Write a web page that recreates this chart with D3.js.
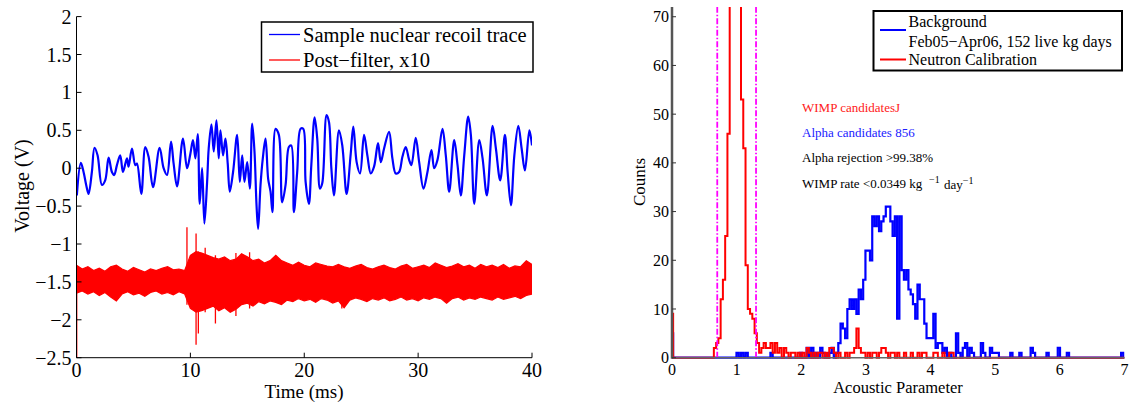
<!DOCTYPE html>
<html><head><meta charset="utf-8">
<script src="https://cdn.jsdelivr.net/npm/d3@7"></script>
<style>
body{margin:0;background:#fff}
svg{display:block}
text{font-family:"Liberation Serif","Times New Roman",serif;fill:#000}
</style>
</head><body>
<svg id="chart" width="1130" height="402"></svg>
<script>
// ---------- LEFT PANEL DATA ----------
const blueTime = [0.03,0.38,0.62,0.85,1.06,1.35,1.58,1.85,2.23,2.52,2.82,3.11,3.31,3.55,3.84,4.08,4.43,4.57,4.87,5.16,5.31,5.69,6.04,6.33,6.72,7.30,7.65,7.95,8.30,8.53,8.83,9.35,9.71,10.00,10.23,10.44,10.65,10.82,11.03,11.23,11.47,11.61,11.85,12.05,12.29,12.49,12.64,12.87,13.08,13.28,13.46,13.75,14.11,14.34,14.55,14.75,14.99,15.22,15.43,15.63,15.81,15.95,16.16,16.36,16.60,16.83,17.04,17.21,17.48,17.77,18.06,18.36,18.65,18.86,19.09,19.38,19.68,19.91,20.12,20.41,20.62,20.91,21.14,21.38,21.58,21.96,22.17,22.38,22.61,23.05,23.34,23.72,24.08,24.31,24.60,24.90,25.25,25.54,25.84,26.13,26.48,26.72,27.01,27.45,27.74,28.04,28.33,28.62,28.91,29.21,29.41,29.79,30.09,30.47,30.82,31.17,31.41,31.70,32.14,32.43,32.73,33.17,33.46,33.75,34.05,34.40,34.63,34.93,35.37,35.66,36.04,36.54,36.83,37.21,37.62,37.86,38.15,38.45,38.80,39.09,39.38,39.77,40.00];
const blueVolt = [-0.36,0.07,-0.05,-0.22,-0.34,-0.05,0.27,0.17,-0.22,-0.16,0.14,-0.05,-0.09,0.04,0.17,-0.05,0.13,0.02,0.26,0.04,0.06,-0.34,0.28,0.15,-0.25,0.27,0.00,-0.09,0.35,0.06,-0.24,0.39,0.00,0.19,0.37,0.13,0.45,-0.47,0.00,-0.73,-0.18,0.26,0.58,0.22,0.63,0.13,0.50,0.17,0.39,0.06,-0.31,-0.05,0.44,-0.18,0.17,-0.18,0.08,-0.27,0.59,0.22,-0.49,-0.80,-0.22,0.13,0.39,-0.14,-0.31,-0.58,0.52,0.44,-0.45,-0.22,0.28,0.30,-0.58,-0.05,0.52,0.52,-0.18,-0.47,0.04,0.67,0.39,-0.27,-0.20,0.70,0.61,0.00,-0.36,0.50,0.30,-0.34,0.19,0.55,0.08,-0.07,0.44,0.17,-0.07,0.02,0.33,0.08,0.26,0.48,0.13,-0.07,-0.05,0.15,0.28,0.11,0.04,0.40,0.08,-0.27,-0.05,0.24,0.00,0.11,0.52,0.17,-0.31,0.37,0.04,-0.36,0.17,0.68,0.44,-0.47,0.37,0.13,-0.36,0.56,0.26,-0.16,0.44,-0.05,-0.49,0.17,0.56,0.26,-0.03,0.50,0.30];

const redTime = [0,0.5,1,1.5,2,2.5,3,3.5,4,4.5,5,5.5,6,6.5,7,7.5,8,8.5,9,9.5,10,10.5,11,11.5,12,12.5,13,13.5,14,14.5,15,15.5,16,16.5,17,17.5,18,18.5,19,19.5,20,20.5,21,21.5,22,22.5,23,23.5,24,24.5,25,25.5,26,26.5,27,27.5,28,28.5,29,29.5,30,30.5,31,31.5,32,32.5,33,33.5,34,34.5,35,35.5,36,36.5,37,37.5,38,38.5,39,39.5,40];
const redHi = [-1.28,-1.33,-1.30,-1.35,-1.32,-1.36,-1.30,-1.28,-1.33,-1.36,-1.31,-1.34,-1.37,-1.33,-1.35,-1.32,-1.30,-1.34,-1.33,-1.35,-1.15,-1.10,-1.12,-1.15,-1.18,-1.20,-1.17,-1.22,-1.20,-1.13,-1.17,-1.22,-1.20,-1.25,-1.22,-1.15,-1.22,-1.25,-1.28,-1.24,-1.28,-1.30,-1.25,-1.27,-1.29,-1.30,-1.27,-1.30,-1.32,-1.29,-1.27,-1.31,-1.33,-1.30,-1.28,-1.31,-1.33,-1.29,-1.27,-1.32,-1.30,-1.28,-1.31,-1.25,-1.28,-1.31,-1.29,-1.26,-1.30,-1.28,-1.32,-1.27,-1.30,-1.28,-1.31,-1.27,-1.32,-1.29,-1.30,-1.22,-1.27];
const redLo = [-1.65,-1.62,-1.66,-1.63,-1.68,-1.64,-1.70,-1.75,-1.66,-1.63,-1.67,-1.65,-1.69,-1.64,-1.62,-1.66,-1.64,-1.67,-1.63,-1.66,-1.85,-1.90,-1.88,-1.85,-1.82,-1.88,-1.84,-1.90,-1.86,-1.80,-1.78,-1.82,-1.76,-1.79,-1.75,-1.77,-1.80,-1.74,-1.76,-1.72,-1.75,-1.73,-1.77,-1.72,-1.74,-1.78,-1.75,-1.84,-1.74,-1.71,-1.73,-1.76,-1.72,-1.74,-1.71,-1.75,-1.73,-1.70,-1.74,-1.72,-1.75,-1.71,-1.73,-1.70,-1.72,-1.78,-1.72,-1.70,-1.74,-1.71,-1.73,-1.70,-1.72,-1.74,-1.70,-1.73,-1.71,-1.69,-1.72,-1.68,-1.66];
// narrow spikes of the filtered trace
const spikeTime = [0.02,9.7,10.5,10.7,11.3,12.2,14.0,15.2,23.3];
const spikeHi   = [-1.30,-0.78,-0.86,-1.10,-1.05,-1.15,-1.12,-1.11,-1.30];
const spikeLo   = [-2.50,-1.80,-2.33,-2.18,-1.90,-2.05,-1.95,-1.85,-1.85];

const leftXTicks = [0,10,20,30,40];
const leftYTicks = [2,1.5,1,0.5,0,-0.5,-1,-1.5,-2,-2.5];
const leftLegend = ["Sample nuclear recoil trace","Post\u2212filter, x10"];

// ---------- RIGHT PANEL DATA ----------
const binWidth = 0.035;   // histogram bin width (bins centred on k*binWidth)
const redBinIdx = [0,19,20,21,22,23,24,25,26,27,28,29,30,31,32,33,34,35,36,37,38,39,40,41,42,43,44,45,46,47,48,50,51,53,54,56,58,60,61,63,65,66,68,70,71,72,74,77,79,80,81,82,83,84,85,87,89,90,92,93,94,95,97,98,100,103,106,109,111,112,116,117,120,123,124];
const redBinCnt = [9,2,3,4,12,16,25,46,85,120,130,110,80,53,43,19,10,9,8,5,3,1,2,3,2,2,3,1,3,1,2,2,1,1,1,1,1,2,1,1,1,1,1,2,2,1,1,1,1,1,2,6,2,1,1,1,1,1,1,2,2,1,1,1,1,1,1,1,1,1,1,1,1,1,1];
const blueBinIdx = [0,29,31,33,44,57,60,62,64,66,67,70,71,73,74,75,76,77,78,79,80,81,82,83,84,85,86,87,88,89,90,91,92,93,94,95,96,97,98,99,100,101,102,103,104,105,106,107,108,109,110,111,112,113,114,115,116,117,118,119,120,121,123,126,127,129,130,132,133,137,138,141,142,143,144,150,154,159,160,166,171,175,199];
const blueBinCnt = [5,1,1,1,1,1,2,2,1,2,1,1,2,1,3,7,6,4,10,12,10,12,9,14,12,16,22,22,20,29,27,29,26,28,29,31,31,28,25,29,8,29,18,16,18,14,13,11,8,15,12,12,7,4,4,4,9,2,3,3,1,2,1,5,1,2,3,2,1,3,1,2,1,1,1,1,1,2,1,1,2,1,1];
const cutLines = [0.7,1.3];
const rightXTicks = [0,1,2,3,4,5,6,7];
const rightYTicks = [0,10,20,30,40,50,60,70];
const rightLegend = ["Background","Feb05\u2212Apr06, 152 live kg days","Neutron Calibration"];
const notes = [
  {text:"WIMP candidatesJ", color:"#ff2020"},
  {text:"Alpha candidates 856", color:"#2020ff"},
  {text:"Alpha rejection >99.38%", color:"#000"}
];

// ---------- DRAW ----------
const svg = d3.select("#chart");

// LEFT
const xL = d3.scaleLinear().domain([0,40]).range([76.5,532]);
const yL = d3.scaleLinear().domain([-2.5,2]).range([357.7,16.6]);
const gL = svg.append("g");

svg.append("clipPath").attr("id","clipL").append("rect")
  .attr("x",xL(0)).attr("y",yL(2)).attr("width",xL(40)-xL(0)).attr("height",yL(-2.5)-yL(2));

const plotL = gL.append("g").attr("clip-path","url(#clipL)");
// red filtered trace band
const redData = redTime.map((t,i)=>({t,hi:redHi[i],lo:redLo[i]}));
plotL.append("path").datum(redData)
  .attr("d", d3.area().x(d=>xL(d.t)).y0(d=>yL(d.lo)).y1(d=>yL(d.hi)))
  .attr("fill","#ff0000").attr("stroke","#ff0000").attr("stroke-width",1.2).attr("stroke-linejoin","miter");
plotL.selectAll("line.spike").data(spikeTime.map((t,i)=>({t,hi:spikeHi[i],lo:spikeLo[i]})))
  .enter().append("line").attr("class","spike")
  .attr("x1",d=>xL(d.t)).attr("x2",d=>xL(d.t))
  .attr("y1",d=>yL(d.hi)).attr("y2",d=>yL(d.lo))
  .attr("stroke","#ff0000").attr("stroke-width",1.3);
// blue trace
plotL.append("path").datum(blueTime.map((t,i)=>[t,blueVolt[i]]))
  .attr("d", d3.line().curve(d3.curveCatmullRom.alpha(0.5)).x(d=>xL(d[0])).y(d=>yL(d[1])))
  .attr("fill","none").attr("stroke","#0000ff").attr("stroke-width",2.2).attr("stroke-linejoin","round");

// axes left
gL.append("line").attr("x1",xL(0)).attr("x2",xL(0)).attr("y1",yL(2)).attr("y2",yL(-2.5)).attr("stroke","#000").attr("stroke-width",1);
gL.append("line").attr("x1",xL(0)).attr("x2",xL(40)).attr("y1",yL(-2.5)).attr("y2",yL(-2.5)).attr("stroke","#000").attr("stroke-width",1);
const fmtL = v => (v<0?"\u2212":"") + String(Math.abs(v));
leftYTicks.forEach(v=>{
  gL.append("line").attr("x1",xL(0)).attr("x2",xL(0)+5).attr("y1",yL(v)).attr("y2",yL(v)).attr("stroke","#000");
  gL.append("text").attr("x",xL(0)-5).attr("y",yL(v)).attr("dy","0.35em").attr("text-anchor","end")
    .attr("font-size",20).text(fmtL(v));
});
leftXTicks.forEach(v=>{
  gL.append("line").attr("x1",xL(v)).attr("x2",xL(v)).attr("y1",yL(-2.5)).attr("y2",yL(-2.5)-5).attr("stroke","#000");
  gL.append("text").attr("x",xL(v)).attr("y",370).attr("dy","0.35em").attr("text-anchor","middle")
    .attr("font-size",20).text(v);
});
gL.append("text").attr("x",304).attr("y",391.5).attr("dy","0.35em").attr("text-anchor","middle").attr("font-size",19).text("Time (ms)");
gL.append("text").attr("transform","translate(22,186) rotate(-90)").attr("dy","0.35em").attr("text-anchor","middle").attr("font-size",20).text("Voltage (V)");

// legend left
gL.append("rect").attr("x",261.5).attr("y",22).attr("width",271.5).attr("height",50).attr("fill","#fff").attr("stroke","#000").attr("stroke-width",1.5);
const legColL = ["#0000ff","#ff0000"], legYL = [34.5,60];
leftLegend.forEach((t,i)=>{
  gL.append("line").attr("x1",269).attr("x2",300).attr("y1",legYL[i]).attr("y2",legYL[i]).attr("stroke",legColL[i]).attr("stroke-width",1.3);
  gL.append("text").attr("x",303).attr("y",legYL[i]).attr("dy","0.35em").attr("font-size",20.5).text(t);
});

// RIGHT
const xR = d3.scaleLinear().domain([0,7]).range([672,1124.5]);
const yR = d3.scaleLinear().domain([0,72]).range([357.7,7]);
const gR = svg.append("g");
svg.append("clipPath").attr("id","clipR").append("rect")
  .attr("x",xR(0)).attr("y",yR(72)).attr("width",xR(7)-xR(0)).attr("height",yR(0)-yR(72)+2);
const plotR = gR.append("g").attr("clip-path","url(#clipR)");

function stepPoints(idx,cnt){
  const full = new Array(201).fill(0);
  idx.forEach((k,i)=>{ full[k]=cnt[i]; });
  const pts = [[0,0]];
  full.forEach((c,k)=>{
    const x0 = Math.max(0,(k-0.5)*binWidth), x1 = Math.min(7,(k+0.5)*binWidth);
    pts.push([x0,c]); pts.push([x1,c]);
  });
  pts.push([7,0]);
  return pts;
}
const lineR = d3.line().x(d=>xR(d[0])).y(d=>yR(d[1]));

// x-axis baseline (gray) under curves
gR.append("line").attr("x1",xR(0)).attr("x2",xR(7)).attr("y1",yR(0)).attr("y2",yR(0)).attr("stroke","#666").attr("stroke-width",1.5);

plotR.append("path").datum(stepPoints(blueBinIdx,blueBinCnt)).attr("d",lineR)
  .attr("fill","none").attr("stroke","#0000ff").attr("stroke-width",2.2).attr("stroke-linejoin","miter");
plotR.append("path").datum(stepPoints(redBinIdx,redBinCnt)).attr("d",lineR)
  .attr("fill","none").attr("stroke","#ff0000").attr("stroke-width",2).attr("stroke-linejoin","miter");
cutLines.forEach(v=>{
  plotR.append("line").attr("x1",xR(v)).attr("x2",xR(v)).attr("y1",yR(0)).attr("y2",yR(72))
    .attr("stroke","#ff00ff").attr("stroke-width",1.8).attr("stroke-dasharray","6,2,1.5,2");
});

// axes right
gR.append("line").attr("x1",xR(0)).attr("x2",xR(0)).attr("y1",yR(72)).attr("y2",yR(0)+1).attr("stroke","#555").attr("stroke-width",2.5);
rightYTicks.forEach(v=>{
  gR.append("line").attr("x1",xR(0)).attr("x2",xR(0)+4).attr("y1",yR(v)).attr("y2",yR(v)).attr("stroke","#333");
  gR.append("text").attr("x",xR(0)-3).attr("y",yR(v)).attr("dy","0.35em").attr("text-anchor","end").attr("font-size",16).text(v);
});
rightXTicks.forEach(v=>{
  gR.append("text").attr("x",xR(v)).attr("y",369).attr("dy","0.35em").attr("text-anchor","middle").attr("font-size",16).text(v);
});
gR.append("text").attr("x",898).attr("y",387.5).attr("dy","0.35em").attr("text-anchor","middle").attr("font-size",16.5).text("Acoustic Parameter");
gR.append("text").attr("transform","translate(639,182) rotate(-90)").attr("dy","0.35em").attr("text-anchor","middle").attr("font-size",17).text("Counts");

// annotations
const noteY = [107.5,132,157];
notes.forEach((n,i)=>{
  gR.append("text").attr("x",802).attr("y",noteY[i]).attr("dy","0.35em").attr("font-size",13).style("fill",n.color).text(n.text);
});
const rate = gR.append("text").attr("x",802).attr("y",183).attr("dy","0.35em").attr("font-size",13);
rate.append("tspan").text("WIMP rate <0.0349 kg");
rate.append("tspan").attr("x",929).attr("dy","-0.45em").attr("font-size",10).text("\u22121");
rate.append("tspan").attr("x",944).attr("dy","0.45em").text("day");
rate.append("tspan").attr("dy","-0.45em").attr("font-size",10).text("\u22121");

// legend right
gR.append("rect").attr("x",873.5).attr("y",11).attr("width",248.5).attr("height",59.5).attr("fill","#fff").attr("stroke","#000").attr("stroke-width",2);
gR.append("line").attr("x1",880).attr("x2",906).attr("y1",30).attr("y2",30).attr("stroke","#0000ff").attr("stroke-width",2);
gR.append("line").attr("x1",880).attr("x2",906).attr("y1",59.5).attr("y2",59.5).attr("stroke","#ff0000").attr("stroke-width",2);
const legYR = [21.5,41,59.5];
rightLegend.forEach((t,i)=>{
  gR.append("text").attr("x",908.5).attr("y",legYR[i]).attr("dy","0.35em").attr("font-size",16).text(t);
});
</script>
</body></html>
